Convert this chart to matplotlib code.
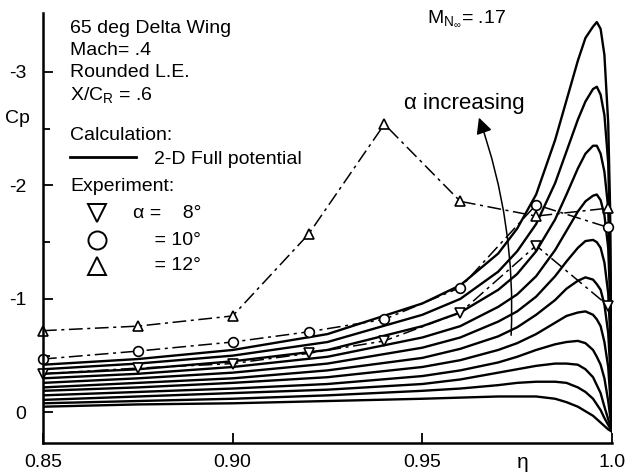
import matplotlib
matplotlib.use('Agg')
import matplotlib.pyplot as plt
from matplotlib.lines import Line2D
from matplotlib.patches import FancyArrowPatch

plt.rcParams['font.family'] = ['Liberation Sans', 'DejaVu Sans']
plt.rcParams['mathtext.fontset'] = 'custom'
plt.rcParams['mathtext.rm'] = 'Liberation Sans'
plt.rcParams['mathtext.it'] = 'Liberation Sans'

# spanwise stations for the 2-D full potential curves
eta_calc = [0.85, 0.875, 0.90, 0.925, 0.95, 0.96, 0.97, 0.975, 0.98, 0.985,
            0.988, 0.991, 0.993, 0.995, 0.996, 0.997, 0.998, 0.999, 0.9995, 1.0]

# calculated Cp, one list per angle of attack (highest alpha first)
curve_01 = [-0.42, -0.47, -0.55, -0.69, -0.96, -1.12, -1.40, -1.62, -1.92, -2.40,
            -2.75, -3.10, -3.30, -3.40, -3.44, -3.38, -3.15, -2.55, -1.80, 0.17]
curve_02 = [-0.38, -0.43, -0.50, -0.62, -0.86, -1.00, -1.24, -1.42, -1.66, -2.02,
            -2.30, -2.58, -2.74, -2.85, -2.87, -2.80, -2.62, -2.20, -1.50, 0.17]
curve_03 = [-0.34, -0.38, -0.45, -0.55, -0.76, -0.88, -1.08, -1.22, -1.42, -1.70,
            -1.92, -2.15, -2.28, -2.35, -2.35, -2.28, -2.12, -1.80, -1.20, 0.17]
curve_04 = [-0.30, -0.34, -0.40, -0.49, -0.66, -0.76, -0.93, -1.04, -1.20, -1.43,
            -1.60, -1.77, -1.86, -1.91, -1.92, -1.87, -1.74, -1.45, -1.00, 0.17]
curve_05 = [-0.26, -0.30, -0.35, -0.43, -0.57, -0.66, -0.80, -0.89, -1.02, -1.20,
            -1.33, -1.45, -1.51, -1.52, -1.50, -1.45, -1.32, -1.05, -0.70, 0.17]
curve_06 = [-0.22, -0.26, -0.30, -0.37, -0.48, -0.56, -0.67, -0.75, -0.86, -0.99,
            -1.09, -1.16, -1.19, -1.17, -1.13, -1.08, -0.95, -0.70, -0.40, 0.17]
curve_07 = [-0.19, -0.22, -0.26, -0.31, -0.40, -0.46, -0.55, -0.61, -0.69, -0.79,
            -0.85, -0.88, -0.89, -0.86, -0.82, -0.76, -0.62, -0.40, -0.15, 0.17]
curve_08 = [-0.15, -0.18, -0.21, -0.25, -0.32, -0.37, -0.44, -0.49, -0.55, -0.60,
            -0.62, -0.63, -0.61, -0.55, -0.49, -0.42, -0.30, -0.10, 0.03, 0.17]
curve_09 = [-0.11, -0.14, -0.17, -0.20, -0.25, -0.29, -0.35, -0.38, -0.41, -0.43,
            -0.43, -0.42, -0.38, -0.31, -0.24, -0.17, -0.05, 0.06, 0.11, 0.17]
curve_10 = [-0.08, -0.10, -0.12, -0.15, -0.19, -0.21, -0.24, -0.26, -0.27, -0.27,
            -0.26, -0.22, -0.18, -0.12, -0.07, -0.02, 0.05, 0.11, 0.14, 0.17]
curve_11 = [-0.05, -0.07, -0.08, -0.10, -0.12, -0.13, -0.14, -0.14, -0.14, -0.12,
            -0.09, -0.05, -0.01, 0.03, 0.06, 0.09, 0.12, 0.15, 0.16, 0.17]
calc_curves = [curve_01, curve_02, curve_03, curve_04, curve_05, curve_06,
               curve_07, curve_08, curve_09, curve_10, curve_11]

# experiment
eta_exp = [0.85, 0.875, 0.90, 0.92, 0.94, 0.96, 0.98, 0.999]
cp_a8 = [-0.34, -0.39, -0.43, -0.52, -0.63, -0.88, -1.47, -0.94]
cp_a10 = [-0.47, -0.54, -0.62, -0.71, -0.82, -1.10, -1.83, -1.63]
cp_a12 = [-0.72, -0.76, -0.85, -1.57, -2.54, -1.86, -1.73, -1.80]

W, H = 627, 474
fig = plt.figure(figsize=(W / 100, H / 100), dpi=100)
ax = fig.add_axes([43 / W, 1 - 443 / H, 569 / W, 430 / H])


def fpx(x, y):
    # pixel position -> figure fraction
    return x / W, 1 - y / H


for cp in calc_curves:
    ax.plot(eta_calc, cp, color='black', lw=1.7, solid_joinstyle='round',
            solid_capstyle='round')

dash = (0, (9, 3, 2, 3))
mk = dict(color='black', lw=1.1, linestyle=dash, markersize=7,
          markerfacecolor='white', markeredgewidth=1.2, clip_on=False)
ax.plot(eta_exp, cp_a8, marker='v', **mk)
ax.plot(eta_exp, cp_a10, marker='o', **mk)
ax.plot(eta_exp, cp_a12, marker='^', **mk)

ax.set_xlim(0.85, 1.0)
ax.set_ylim(0.27, -3.52)
ax.spines['top'].set_visible(False)
ax.spines['right'].set_visible(False)
ax.spines['left'].set_linewidth(1.8)
ax.spines['bottom'].set_linewidth(1.8)

ax.set_xticks([0.85, 0.90, 0.95, 1.0])
ax.set_xticklabels(['0.85', '0.90', '0.95', '1.0'])
ax.set_yticks([-3, -2, -1, 0])
ax.set_yticklabels(['-3', '-2', '-1', '0'])
ax.set_yticks([-2.5, -1.5, -0.5], minor=True)
ax.tick_params(axis='both', which='both', direction='in', labelsize=14, width=1.3)
ax.tick_params(axis='x', length=7, pad=8)
ax.tick_params(axis='y', which='major', length=7, pad=12)
ax.tick_params(axis='y', which='minor', length=5)

fs = 14
fig.text(*fpx(5, 118), 'Cp', fontsize=fs, va='center')
fig.text(*fpx(517, 462), 'η', fontsize=fs + 1, va='center')

fig.text(*fpx(70, 33), '65 deg Delta Wing', fontsize=fs, va='baseline')
fig.text(*fpx(70, 55), 'Mach= .4', fontsize=fs, va='baseline')
fig.text(*fpx(70, 77), 'Rounded L.E.', fontsize=fs, va='baseline')
fig.text(*fpx(70, 100), r'X/C$_\mathregular{R}$ = .6', fontsize=fs, va='baseline')
fig.text(*fpx(70, 140), 'Calculation:', fontsize=fs, va='baseline')
fig.add_artist(Line2D([70 / W, 136 / W], [1 - 157 / H] * 2, color='black', lw=2))
fig.text(*fpx(154, 164), '2-D Full potential', fontsize=fs, va='baseline')
fig.text(*fpx(70, 191), 'Experiment:', fontsize=fs, va='baseline')

for yy, m, lab in [(213, 'v', 'α =    8°'), (240, 'o', '    = 10°'), (266, '^', '    = 12°')]:
    fig.add_artist(Line2D([97 / W], [1 - yy / H], marker=m, markersize=13,
                          markerfacecolor='white', markeredgecolor='black',
                          markeredgewidth=1.4, linestyle='none'))
    fig.text(*fpx(133, yy), lab, fontsize=fs, va='center')

fig.text(*fpx(427, 23), r'M$_\mathregular{N_\infty}$= .17', fontsize=fs, va='baseline')
fig.text(*fpx(404, 109), 'α increasing', fontsize=fs + 2, va='baseline')

arrow = FancyArrowPatch(fpx(511, 338), fpx(478, 115), transform=fig.transFigure,
                        connectionstyle='arc3,rad=0.1', arrowstyle='-|>',
                        mutation_scale=24, color='black', lw=1.1)
fig.add_artist(arrow)

fig.savefig('out.png', dpi=100)
